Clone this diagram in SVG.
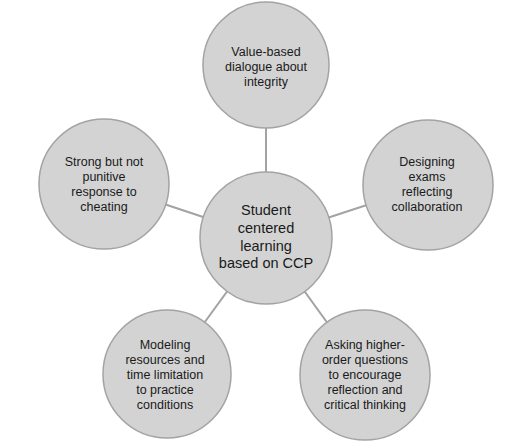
<svg xmlns="http://www.w3.org/2000/svg" width="530" height="442" viewBox="0 0 530 442">
<style>
.n{fill:#d3d3d3;stroke:#a3a3a3;stroke-width:1.5}
.c{stroke:#a3a3a3;stroke-width:2;fill:none}
text{font-family:"Liberation Sans",Arial,sans-serif;fill:#1a1a1a;text-anchor:middle;dominant-baseline:central}
.s{font-size:12.5px}
.b{font-size:14.5px}
</style>
<rect width="530" height="442" fill="#fff"/>
<g id="connectors">
<line class="c" x1="266" y1="65" x2="266" y2="238"/>
<line class="c" x1="104" y1="184" x2="266" y2="238"/>
<line class="c" x1="428" y1="185" x2="266" y2="238"/>
<line class="c" x1="167" y1="374" x2="266" y2="238"/>
<line class="c" x1="365" y1="375" x2="266" y2="238"/>
</g>
<g id="center">
<circle class="n" cx="266" cy="238" r="66"/>
<text class="b" x="266" y="210">Student</text>
<text class="b" x="266" y="228">centered</text>
<text class="b" x="266" y="245.5">learning</text>
<text class="b" x="266" y="263">based on CCP</text>
</g>
<g id="top">
<circle class="n" cx="266" cy="65" r="63"/>
<text class="s" x="266" y="52">Value-based</text>
<text class="s" x="266" y="67">dialogue about</text>
<text class="s" x="266" y="82">integrity</text>
</g>
<g id="left">
<circle class="n" cx="104" cy="184" r="65"/>
<text class="s" x="104" y="162">Strong but not</text>
<text class="s" x="104" y="177">punitive</text>
<text class="s" x="104" y="192">response to</text>
<text class="s" x="104" y="207">cheating</text>
</g>
<g id="right">
<circle class="n" cx="428" cy="185" r="65"/>
<text class="s" x="427" y="162">Designing</text>
<text class="s" x="427" y="177">exams</text>
<text class="s" x="427" y="192">reflecting</text>
<text class="s" x="427" y="207">collaboration</text>
</g>
<g id="bottom-left">
<circle class="n" cx="167" cy="374" r="64"/>
<text class="s" x="165" y="345">Modeling</text>
<text class="s" x="165" y="360">resources and</text>
<text class="s" x="165" y="375">time limitation</text>
<text class="s" x="165" y="390">to practice</text>
<text class="s" x="165" y="405">conditions</text>
</g>
<g id="bottom-right">
<circle class="n" cx="365" cy="375" r="65"/>
<text class="s" x="365" y="345">Asking higher-</text>
<text class="s" x="365" y="360">order questions</text>
<text class="s" x="365" y="375">to encourage</text>
<text class="s" x="365" y="390">reflection and</text>
<text class="s" x="365" y="405">critical thinking</text>
</g>
</svg>
